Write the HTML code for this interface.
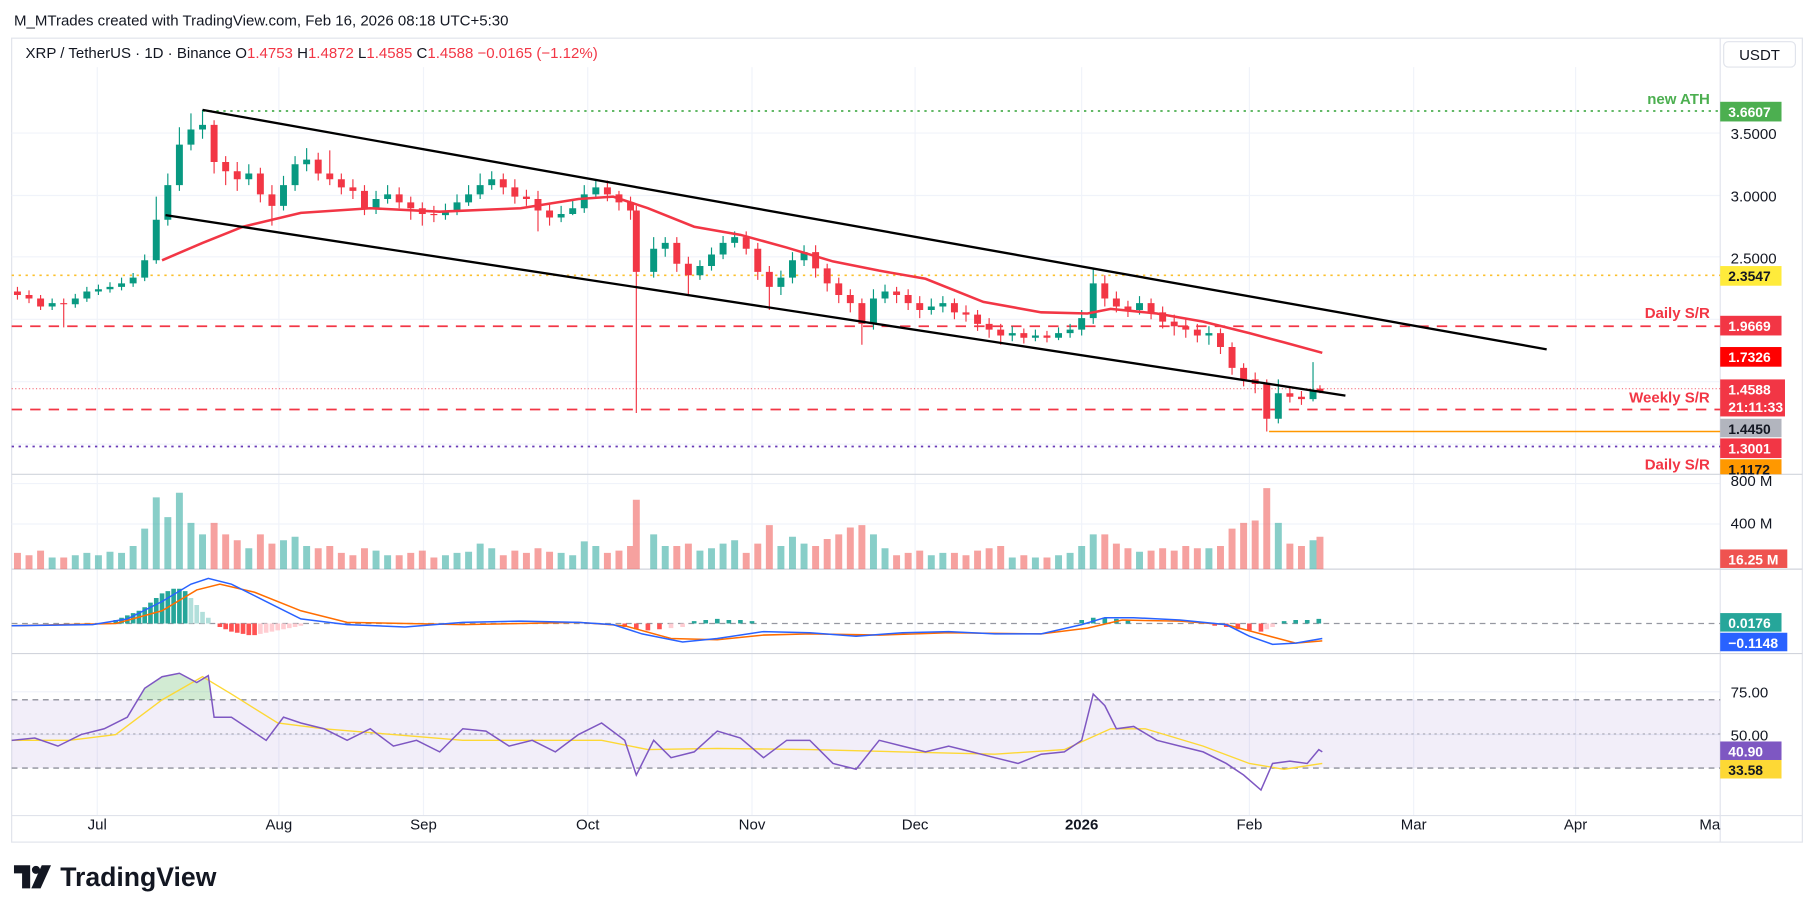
<!DOCTYPE html>
<html><head><meta charset="utf-8"><style>
html,body{margin:0;padding:0;background:#fff;width:1814px;height:915px;overflow:hidden}
svg{display:block}
text{font-family:"Liberation Sans",sans-serif}
</style></head><body>
<svg width="1814" height="915" viewBox="0 0 1568 791" xmlns="http://www.w3.org/2000/svg">
<rect width="1568" height="791" fill="#fff"/>
<text x="12" y="22" font-size="13" fill="#131722">M_MTrades created with TradingView.com, Feb 16, 2026 08:18 UTC+5:30</text>
<rect x="10" y="33" width="1548" height="695" fill="none" stroke="#e0e3eb"/>
<g stroke="#f0f3fa">
<path d="M84,58V705M241,58V705M366,58V705M508,58V705M650,58V705M791,58V705M935,58V705M1080,58V705M1222,58V705M1362,58V705"/>
<path d="M10,115H1487M10,169H1487M10,222H1487M10,276H1487M10,330H1487M10,384H1487M10,418H1487M10,453H1487M10,598H1487M10,635H1487"/>
</g>
<line x1="1487" y1="33" x2="1487" y2="728" stroke="#e0e3eb"/>
<line x1="10" y1="410" x2="1558" y2="410" stroke="#d1d4dc"/>
<line x1="10" y1="492" x2="1558" y2="492" stroke="#d1d4dc"/>
<line x1="10" y1="565" x2="1558" y2="565" stroke="#d1d4dc"/>
<line x1="10" y1="705" x2="1558" y2="705" stroke="#e0e3eb"/>
<rect x="10" y="605" width="1477" height="59" fill="#7e57c2" opacity="0.1"/>
<line x1="10" y1="605" x2="1487" y2="605" stroke="#787b86" stroke-dasharray="5,4"/>
<line x1="10" y1="634.5" x2="1487" y2="634.5" stroke="#787b86" stroke-dasharray="2,3" opacity="0.6"/>
<line x1="10" y1="664" x2="1487" y2="664" stroke="#787b86" stroke-dasharray="5,4"/>
<line x1="10" y1="539" x2="1487" y2="539" stroke="#9598a1" stroke-dasharray="5,4"/>
<line x1="175" y1="96" x2="1487" y2="96" stroke="#4caf50" stroke-width="1.5" stroke-dasharray="2,4"/>
<line x1="10" y1="238" x2="1487" y2="238" stroke="#fbc02d" stroke-width="1.5" stroke-dasharray="2,4"/>
<line x1="10" y1="282" x2="1487" y2="282" stroke="#f23645" stroke-width="1.5" stroke-dasharray="9,7"/>
<line x1="10" y1="354" x2="1487" y2="354" stroke="#f23645" stroke-width="1.5" stroke-dasharray="9,7"/>
<line x1="10" y1="386" x2="1487" y2="386" stroke="#673ab7" stroke-width="1.5" stroke-dasharray="2,4"/>
<line x1="1097" y1="373" x2="1487" y2="373" stroke="#ff9800" stroke-width="1.3"/>
<line x1="10" y1="336" x2="1487" y2="336" stroke="#f23645" stroke-width="1" stroke-dasharray="1,2" opacity="0.7"/>

<path fill="none" stroke="#26a69a" stroke-width="6" opacity="0.55" d="M45,492v-10M65,492v-12M75,492v-14M85,492v-12M95,492v-15M105,492v-14M115,492v-20M125,492v-35M135,492v-62M145,492v-45M155,492v-66M165,492v-40M175,492v-30M215,492v-18M245,492v-25M255,492v-28M265,492v-20M325,492v-16M335,492v-12M385,492v-12M395,492v-14M405,492v-15M415,492v-22M425,492v-18M485,492v-14M495,492v-12M505,492v-24M515,492v-20M565,492v-30M575,492v-20M605,492v-16M615,492v-18M625,492v-22M635,492v-25M675,492v-20M685,492v-28M695,492v-22M755,492v-30M765,492v-18M805,492v-12M815,492v-14M875,492v-10M895,492v-10M915,492v-12M925,492v-14M935,492v-20M945,492v-30M985,492v-15M1045,492v-18M1105,492v-40M1135,492v-25"/>
<path fill="none" stroke="#ef5350" stroke-width="6" opacity="0.55" d="M15,492v-14M25,492v-12M35,492v-16M55,492v-10M185,492v-40M195,492v-30M205,492v-25M225,492v-30M235,492v-22M275,492v-18M285,492v-20M295,492v-14M305,492v-12M315,492v-18M345,492v-12M355,492v-14M365,492v-16M375,492v-10M435,492v-12M445,492v-16M455,492v-14M465,492v-18M475,492v-15M525,492v-14M535,492v-16M545,492v-20M550,492v-60M585,492v-20M595,492v-22M645,492v-14M655,492v-22M665,492v-38M705,492v-20M715,492v-26M725,492v-30M735,492v-36M745,492v-38M775,492v-12M785,492v-14M795,492v-16M825,492v-14M835,492v-12M845,492v-16M855,492v-18M865,492v-20M885,492v-12M905,492v-10M955,492v-30M965,492v-22M975,492v-18M995,492v-16M1005,492v-18M1015,492v-16M1025,492v-20M1035,492v-18M1055,492v-20M1065,492v-35M1075,492v-40M1085,492v-42M1095,492v-70M1115,492v-22M1125,492v-20M1141,492v-28"/>

<path fill="none" stroke="#26a69a" stroke-width="4" d="M100,539v-3M105,539v-5M110,539v-7M115,539v-9M120,539v-11M125,539v-14M130,539v-18M135,539v-22M140,539v-26M145,539v-28M150,539v-30M155,539v-30M160,539v-28M600,539v-2M610,539v-3M620,539v-4M630,539v-3M640,539v-3M650,539v-2M935,539v-3M945,539v-5M955,539v-5M965,539v-4M975,539v-3M1110,539v-2M1120,539v-3M1130,539v-3M1140,539v-4"/>
<path fill="none" stroke="#b2dfdb" stroke-width="4" d="M165,539v-22M170,539v-16M175,539v-10M180,539v-5"/>
<path fill="none" stroke="#ff5252" stroke-width="4" d="M190,539v3M195,539v5M200,539v7M205,539v8M210,539v9M215,539v10M220,539v10M540,539v3M550,539v5M560,539v6M570,539v5M1050,539v2M1060,539v3M1070,539v5M1080,539v6M1090,539v7"/>
<path fill="none" stroke="#ffcdd2" stroke-width="4" d="M225,539v9M230,539v8M235,539v7M240,539v6M245,539v5M250,539v4M255,539v3M260,539v2M580,539v4M590,539v3M1095,539v5M1100,539v3"/>
<polyline fill="none" stroke="#ff6d00" stroke-width="1.3" points="10,541 100,539 140,528 170,510 190,505 220,512 260,528 300,538 400,540 500,538 540,541 580,552 620,553 660,549 700,548 760,549 820,547 900,548 940,543 970,536 1020,537 1060,540 1090,548 1120,556 1143,554"/>
<polyline fill="none" stroke="#2962ff" stroke-width="1.3" points="10,541 80,540 110,535 140,520 165,505 180,500 200,505 230,520 260,535 300,540 350,542 400,538 450,537 500,538 530,540 555,548 590,555 620,552 660,546 700,547 740,550 780,547 820,546 860,548 900,548 935,540 955,534 980,534 1020,536 1060,540 1080,550 1100,557 1120,556 1143,552"/>

<polygon fill="#4caf50" opacity="0.25" points="120,605 125,595 140,585 155,582 170,590 180,584 184,605"/>
<polyline fill="none" stroke="#fdd835" stroke-width="1.2" points="10,640 60,640 100,635 140,605 175,585 200,600 240,625 280,630 340,635 400,640 460,640 520,640 560,648 620,647 700,648 780,650 860,652 920,648 960,630 990,630 1040,645 1080,660 1110,665 1143,660"/>
<polyline fill="none" stroke="#7e57c2" stroke-width="1.3" points="10,640 30,638 50,645 70,635 90,630 110,620 125,595 140,585 155,582 170,590 180,584 185,620 200,620 215,630 230,640 245,620 260,625 280,630 300,640 320,630 340,645 360,640 380,650 400,630 420,632 440,645 460,640 480,650 500,635 520,625 540,640 550,670 565,640 580,655 600,650 620,632 640,638 660,655 680,640 700,640 720,660 740,665 760,640 780,645 800,650 820,645 840,650 860,655 880,660 900,652 920,650 935,640 945,600 955,610 965,630 980,628 1000,640 1020,645 1040,650 1060,660 1075,670 1090,683 1100,660 1115,658 1130,660 1140,648 1143,650"/>

<path fill="none" stroke="#089981" stroke-width="1" d="M45,258V268M65,254V266M75,248V261M85,246V255M95,244V253M105,240V251M115,236V248M125,220V243M135,170V228M145,150V195M155,110V165M165,98V130M175,95V120M215,142V160M245,152V182M255,135V165M265,128V148M325,165V185M335,160V176M385,176V190M395,168V186M405,160V178M415,150V172M425,148V164M485,178V192M495,172V186M505,160V184M515,155V172M565,205V240M575,205V222M605,225V242M615,214V234M625,204V224M635,200V214M675,234V255M685,218V245M695,212V230M755,250V285M765,246V262M805,258V272M815,256V270M875,282V295M895,285V295M915,283V294M925,280V292M935,268V290M945,232V280M985,256V272M1045,282V298M1105,328V366M1135,313V347"/>
<path fill="none" stroke="#f23645" stroke-width="1" d="M15,248V259M25,251V262M35,255V268M55,258V283M185,104V150M195,135V160M205,140V165M225,145V175M235,160V195M275,132V156M285,130V160M295,150V168M305,155V172M315,160V186M345,162V180M355,170V190M365,175V195M375,178V192M435,150V168M445,155V176M455,164V178M465,165V200M475,176V195M525,156V174M535,165V182M545,170V190M550,178V357M585,205V235M595,222V256M645,200V220M655,210V242M665,230V268M705,212V240M715,228V252M725,240V262M735,250V270M745,258V298M775,248V262M785,250V268M795,256V275M825,258V276M835,264V278M845,268V286M855,275V292M865,280V298M885,284V297M905,286V296M955,238V265M965,252V270M975,260V274M995,258V276M1005,265V284M1015,272V290M1025,276V292M1035,280V296M1055,284V306M1065,296V324M1075,314V334M1085,322V340M1095,328V373M1115,335V348M1125,338V350M1141,333V340"/>
<path fill="#089981" d="M42,262h6v3h-6zM62,258h6v5h-6zM72,252h6v6h-6zM82,250h6v2h-6zM92,248h6v2h-6zM102,245h6v3h-6zM112,240h6v5h-6zM122,225h6v15h-6zM132,190h6v35h-6zM142,160h6v30h-6zM152,125h6v35h-6zM162,112h6v13h-6zM172,108h6v4h-6zM212,150h6v5h-6zM242,160h6v18h-6zM252,142h6v18h-6zM262,138h6v4h-6zM322,172h6v8h-6zM332,168h6v4h-6zM382,182h6v4h-6zM392,175h6v7h-6zM402,168h6v7h-6zM412,160h6v8h-6zM422,155h6v5h-6zM482,185h6v3h-6zM492,180h6v5h-6zM502,168h6v12h-6zM512,162h6v6h-6zM562,215h6v20h-6zM572,210h6v5h-6zM602,230h6v8h-6zM612,220h6v10h-6zM622,210h6v10h-6zM632,205h6v5h-6zM672,240h6v8h-6zM682,225h6v15h-6zM692,218h6v7h-6zM752,258h6v22h-6zM762,252h6v6h-6zM802,265h6v3h-6zM812,262h6v3h-6zM872,288h6v2h-6zM892,290h6v2h-6zM912,288h6v4h-6zM922,285h6v3h-6zM932,275h6v10h-6zM942,245h6v30h-6zM982,262h6v6h-6zM1042,288h6v2h-6zM1102,340h6v22h-6zM1132,338h6v7h-6z"/>
<path fill="#f23645" d="M12,252h6v3h-6zM22,255h6v3h-6zM32,258h6v7h-6zM52,262h6v1h-6zM182,108h6v32h-6zM192,140h6v8h-6zM202,148h6v7h-6zM222,150h6v18h-6zM232,168h6v10h-6zM272,138h6v12h-6zM282,150h6v5h-6zM292,155h6v7h-6zM302,162h6v3h-6zM312,165h6v15h-6zM342,168h6v7h-6zM352,175h6v5h-6zM362,180h6v5h-6zM372,185h6v1h-6zM432,155h6v7h-6zM442,162h6v8h-6zM452,170h6v2h-6zM462,172h6v10h-6zM472,182h6v6h-6zM522,162h6v6h-6zM532,168h6v7h-6zM542,175h6v7h-6zM547,182h6v53h-6zM582,210h6v18h-6zM592,228h6v10h-6zM642,205h6v10h-6zM652,215h6v20h-6zM662,235h6v13h-6zM702,218h6v14h-6zM712,232h6v13h-6zM722,245h6v10h-6zM732,255h6v7h-6zM742,262h6v18h-6zM772,252h6v3h-6zM782,255h6v7h-6zM792,262h6v6h-6zM822,262h6v8h-6zM832,270h6v2h-6zM842,272h6v8h-6zM852,280h6v5h-6zM862,285h6v5h-6zM882,288h6v4h-6zM902,290h6v2h-6zM952,245h6v13h-6zM962,258h6v7h-6zM972,265h6v3h-6zM992,262h6v8h-6zM1002,270h6v8h-6zM1012,278h6v4h-6zM1022,282h6v3h-6zM1032,285h6v5h-6zM1052,288h6v12h-6zM1062,300h6v18h-6zM1072,318h6v10h-6zM1082,328h6v4h-6zM1092,332h6v30h-6zM1112,340h6v3h-6zM1122,343h6v2h-6zM1138,336h6v2h-6z"/>

<polyline fill="none" stroke="#f23645" stroke-width="2.2" points="140,225 175,210 210,196 260,184 320,180 380,183 450,180 500,172 530,170 560,180 600,196 640,203 680,214 720,226 760,234 800,241 850,261 900,270 940,271 960,267 1000,271 1040,278 1080,288 1110,296 1143,305"/>
<line x1="175" y1="95" x2="1337" y2="302" stroke="#000" stroke-width="2"/>
<line x1="143" y1="186" x2="1163" y2="342" stroke="#000" stroke-width="2"/>
<g font-size="13" font-weight="bold" text-anchor="end">
<text x="1478" y="90" fill="#4caf50">new ATH</text>
<text x="1478" y="275" fill="#f23645">Daily S/R</text>
<text x="1478" y="348" fill="#f23645">Weekly S/R</text>
<text x="1478" y="406" fill="#f23645">Daily S/R</text>
</g>
<text x="22" y="50" font-size="13" fill="#131722">XRP / TetherUS · 1D · Binance  O<tspan fill="#f23645">1.4753</tspan>  H<tspan fill="#f23645">1.4872</tspan>  L<tspan fill="#f23645">1.4585</tspan>  C<tspan fill="#f23645">1.4588  −0.0165 (−1.12%)</tspan></text>
<rect x="1490" y="36" width="62" height="22" rx="4" fill="#fff" stroke="#e0e3eb"/>
<text x="1521" y="52" font-size="13" fill="#131722" text-anchor="middle">USDT</text>
<g font-size="13" fill="#131722">
<text x="1496" y="120">3.5000</text><text x="1496" y="174">3.0000</text><text x="1496" y="228">2.5000</text>
<text x="1496" y="420">800 M</text><text x="1496" y="457">400 M</text>
<text x="1496" y="603">75.00</text><text x="1496" y="640">50.00</text>
</g>
<g font-size="12" font-weight="bold">
<rect x="1487" y="88" width="53" height="17" fill="#4caf50"/><text x="1494" y="101" fill="#fff">3.6607</text>
<rect x="1487" y="230" width="53" height="17" fill="#ffeb3b"/><text x="1494" y="243" fill="#131722">2.3547</text>
<rect x="1487" y="273" width="53" height="17" fill="#f23645"/><text x="1494" y="286" fill="#fff">1.9669</text>
<rect x="1487" y="300" width="53" height="17" fill="#ff0000"/><text x="1494" y="313" fill="#fff">1.7326</text>
<rect x="1487" y="328" width="56" height="32" fill="#f23645"/><text x="1494" y="341" fill="#fff">1.4588</text><text x="1494" y="356" fill="#fff">21:11:33</text>
<rect x="1487" y="362" width="53" height="16" fill="#b2b5be"/><text x="1494" y="375" fill="#131722">1.4450</text>
<rect x="1487" y="379" width="53" height="17" fill="#f23645"/><text x="1494" y="392" fill="#fff">1.3001</text>
<rect x="1487" y="397" width="53" height="13" fill="#ff9800"/><text x="1494" y="410" fill="#131722">1.1172</text>
<rect x="1487" y="475" width="58" height="16" fill="#ef5350"/><text x="1494" y="488" fill="#fff">16.25 M</text>
<rect x="1487" y="530" width="53" height="16" fill="#26a69a"/><text x="1494" y="543" fill="#fff">0.0176</text>
<rect x="1487" y="547" width="58" height="16" fill="#2962ff"/><text x="1494" y="560" fill="#fff">−0.1148</text>
<rect x="1487" y="641" width="53" height="16" fill="#7e57c2"/><text x="1494" y="654" fill="#fff">40.90</text>
<rect x="1487" y="657" width="53" height="16" fill="#fdd835"/><text x="1494" y="670" fill="#131722">33.58</text>
</g>
<g font-size="13" fill="#131722" text-anchor="middle">
<text x="84" y="717">Jul</text><text x="241" y="717">Aug</text><text x="366" y="717">Sep</text><text x="508" y="717">Oct</text><text x="650" y="717">Nov</text><text x="791" y="717">Dec</text><text x="935" y="717" font-weight="bold">2026</text><text x="1080" y="717">Feb</text><text x="1222" y="717">Mar</text><text x="1362" y="717">Apr</text><text x="1478" y="717">Ma</text>
</g>
<g transform="translate(12,748)">
<path d="M0 0h14v20h-7V7H0z" fill="#131722"/><circle cx="19" cy="4" r="3.5" fill="#131722"/><path d="M24 0h8l-9 20h-8z" fill="#131722"/>
<text x="40" y="18" font-size="23" font-weight="bold" fill="#131722">TradingView</text>
</g>
</svg>
</body></html>
